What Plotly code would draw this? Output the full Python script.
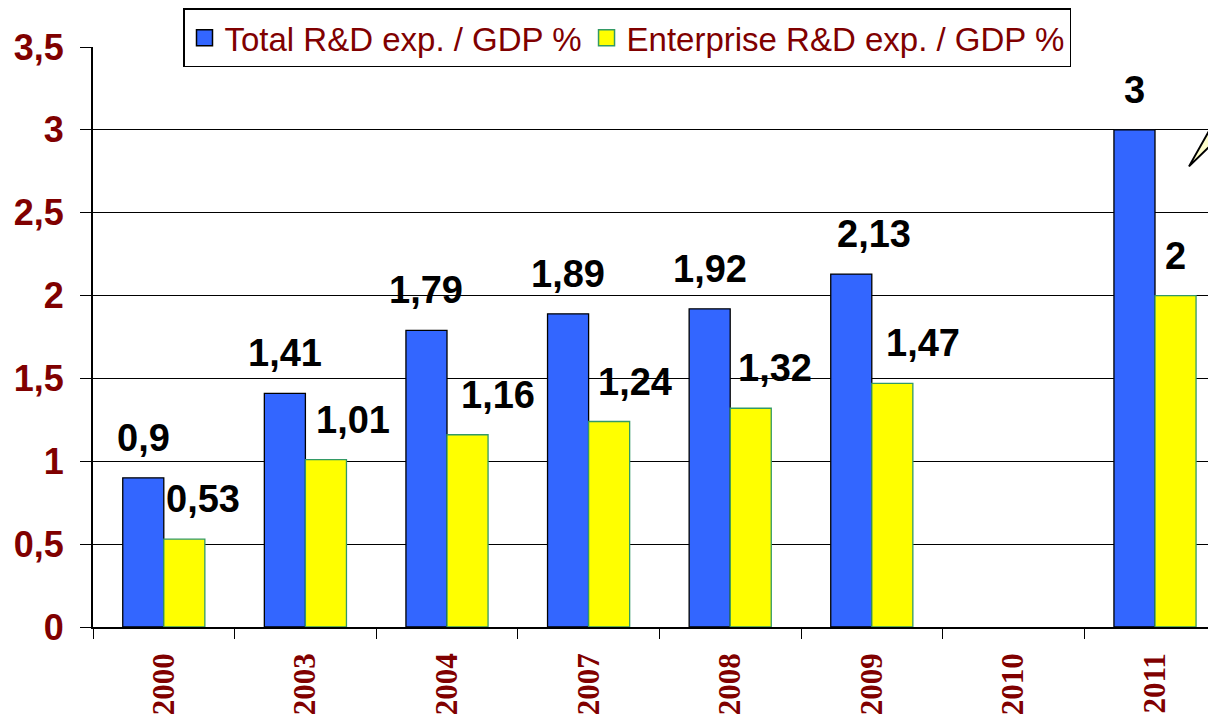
import plotly.graph_objects as go

# ---- data ----
years = ["2000", "2003", "2004", "2007", "2008", "2009", "2010", "2011"]
total_rd = [0.9, 1.41, 1.79, 1.89, 1.92, 2.13, None, 3]
enterprise_rd = [0.53, 1.01, 1.16, 1.24, 1.32, 1.47, None, 2]
y_ticks = [0, 0.5, 1, 1.5, 2, 2.5, 3, 3.5]
series_names = ["Total R&D exp. / GDP %", "Enterprise R&D exp. / GDP %"]

# label horizontal nudges (px), as in the original chart
total_label_dx = [0, 0, 0, 0, 0, 23, 0, 0]
ent_label_dx = [19, 27, 30, 26, 24, 31, 0, 0]

DARKRED = "#800000"
BLUE, BLUE_EDGE = "#3366FF", "black"
YELLOW, YELLOW_EDGE = "#FFFF00", "#339966"
BARGAP = 0.42
half = (1 - BARGAP) / 4  # offset of each bar centre from category centre

fig = go.Figure()
fig.add_trace(go.Bar(
    x=years, y=total_rd, name=series_names[0], showlegend=False,
    marker=dict(color=BLUE, line=dict(color=BLUE_EDGE, width=1.3)),
))
fig.add_trace(go.Bar(
    x=years, y=enterprise_rd, name=series_names[1], showlegend=False,
    marker=dict(color=YELLOW, line=dict(color=YELLOW_EDGE, width=1.3)),
))
# legend entries with larger square swatches, like the original
for name, col, edge in zip(series_names, [BLUE, YELLOW], [BLUE_EDGE, YELLOW_EDGE]):
    fig.add_trace(go.Scatter(
        x=[None], y=[None], mode="markers", name=name, hoverinfo="skip",
        marker=dict(symbol="square", size=20, color=col, line=dict(color=edge, width=1.5)),
    ))

def fmt(v):
    return f"{v:g}".replace(".", ",")

label_font = dict(family="Liberation Sans", size=38, color="black", weight="bold")
annotations = []
for i, (v, dx) in enumerate(zip(total_rd, total_label_dx)):
    if v is None:
        continue
    annotations.append(dict(x=i - half, y=v, xref="x", yref="y", text=fmt(v),
                            showarrow=False, yanchor="middle", yshift=40, xshift=dx,
                            font=label_font))
for i, (v, dx) in enumerate(zip(enterprise_rd, ent_label_dx)):
    if v is None:
        continue
    annotations.append(dict(x=i + half, y=v, xref="x", yref="y", text=fmt(v),
                            showarrow=False, yanchor="middle", yshift=40, xshift=dx,
                            font=label_font))

# page has an 8px body margin: compensate so the plot lands where the original does
OFF = 8
W, H = 1216, 717
L, R, T, B = 93 - OFF, 0, 44 - OFF, 717 - (627 - OFF)
pw, ph = W - L - R, H - T - B
CAT_PX = 141.6
x_end = -0.5 + pw / CAT_PX

def px(xp):  # page pixel -> paper x
    return (xp - OFF - L) / pw

def py(yp):  # page pixel -> paper y
    return (H - B - (yp - OFF)) / ph

callout = (f"M {px(1189)},{py(164)} L {px(1230)},{py(91)} "
           f"L {px(1230)},{py(124)} Z")

fig.update_layout(
    width=W, height=H,
    margin=dict(l=L, r=R, t=T, b=B),
    paper_bgcolor="white", plot_bgcolor="white",
    barmode="group", bargap=BARGAP, bargroupgap=0,
    separators=",.",
    showlegend=True,
    legend=dict(orientation="h", x=px(183), y=py(5), xanchor="left", yanchor="top",
                bordercolor="black", borderwidth=1.5, bgcolor="white",
                font=dict(family="Liberation Sans", size=33, color=DARKRED),
                itemclick=False, tracegroupgap=0),
    annotations=annotations,
    shapes=[dict(type="path", xref="paper", yref="paper", path=callout,
                 fillcolor="#FFFFCC", line=dict(color="black", width=2), layer="above")],
    xaxis=dict(
        type="category", range=[-0.5, x_end],
        showgrid=False, showline=True, linecolor="black", linewidth=1.5,
        ticks="outside", tickson="boundaries", ticklen=10, tickcolor="black", tickwidth=1.3,
        tickangle=-90, ticklabelstandoff=12,
        tickfont=dict(family="Liberation Serif", size=31, color=DARKRED, weight="bold"),
    ),
    yaxis=dict(
        range=[0, 3.5], tickvals=y_ticks,
        showgrid=True, gridcolor="black", gridwidth=1.2,
        showline=True, linecolor="black", linewidth=2,
        ticks="outside", ticklen=11, tickcolor="black", tickwidth=1.3,
        ticklabelstandoff=9,
        tickfont=dict(family="Liberation Sans", size=36, color=DARKRED, weight="bold"),
        zeroline=False,
    ),
)

fig.write_html("out.html")
